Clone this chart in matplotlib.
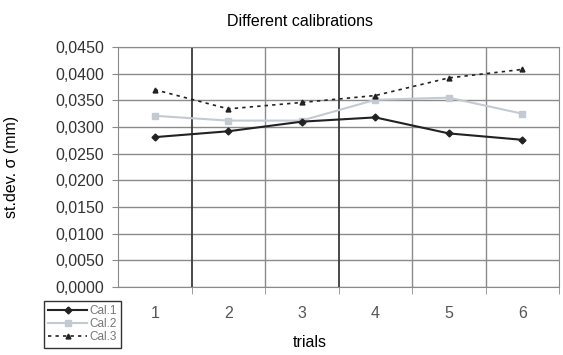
import numpy as np
import matplotlib.pyplot as plt

plt.rcParams['font.family'] = ['Liberation Sans', 'DejaVu Sans']

trials = [1, 2, 3, 4, 5, 6]
cal1 = [0.0281, 0.0292, 0.0310, 0.0318, 0.0288, 0.0276]
cal2 = [0.0321, 0.0312, 0.0312, 0.0351, 0.0355, 0.0325]
cal3 = [0.0370, 0.0334, 0.0346, 0.0359, 0.0392, 0.0408]
yticks = np.arange(0, 0.0451, 0.005)

fig = plt.figure(figsize=(5.63, 3.55), dpi=100)
ax = fig.add_axes([118 / 563, 1 - 287 / 355, 441 / 563, 240 / 355])

# grid lines
for y in yticks:
    ax.axhline(y, color='#8a8a8a', lw=1, zorder=1)
for xb in np.arange(1.5, 6.5, 1):
    dark = xb in (1.5, 3.5)
    ax.axvline(xb, color='#3a3a3a' if dark else '#8a8a8a', lw=1.3 if dark else 1, zorder=1)

ax.plot(trials, cal1, color='#222222', lw=1.5, marker='D', ms=3.5, label='Cal.1', zorder=3)
ax.plot(trials, cal2, color='#c3cad2', lw=1.5, marker='s', ms=4.5, label='Cal.2', zorder=2)
ax.plot(trials, cal3, color='#222222', lw=1.2, ls=(0, (2, 2.5)), marker='^', ms=3.5,
        label='Cal.3', zorder=3)

ax.set_xlim(0.5, 6.5)
ax.set_ylim(0, 0.045)
ax.set_xticks(trials)
ax.set_xticks(np.arange(1.5, 6.6, 1), minor=True)
ax.tick_params(axis='x', which='major', length=0, pad=14, labelsize=11.5, colors='#555555')
ax.tick_params(axis='x', which='minor', length=5, color='#8a8a8a', direction='out')
ax.set_yticks(yticks)
ax.set_yticklabels([f"{v:.4f}".replace('.', ',') for v in yticks])
ax.tick_params(axis='y', length=4, color='#8a8a8a', pad=6, labelsize=11.5, labelcolor='#333333')
for s in ax.spines.values():
    s.set_color('#8a8a8a')

ax.set_title('Different calibrations', fontsize=11.5, x=0.413, y=1.0, pad=15)
ax.set_xlabel('trials', fontsize=11.5)
ax.xaxis.set_label_coords(0.435, -0.2)
ax.set_ylabel('st.dev. σ (mm)', fontsize=11.5)
ax.yaxis.set_label_coords(-0.225, 0.5)

leg = fig.legend(loc='upper left', bbox_to_anchor=(44 / 563, 1 - 301 / 355), fontsize=8.5,
                 frameon=True, fancybox=False, handlelength=3.3, handletextpad=0.2,
                 borderpad=0.35, labelspacing=0.1, borderaxespad=0)
leg.get_frame().set_edgecolor('black')
leg.get_frame().set_linewidth(1)
for t in leg.get_texts():
    t.set_color('#777777')

fig.savefig('out.png', dpi=100)
